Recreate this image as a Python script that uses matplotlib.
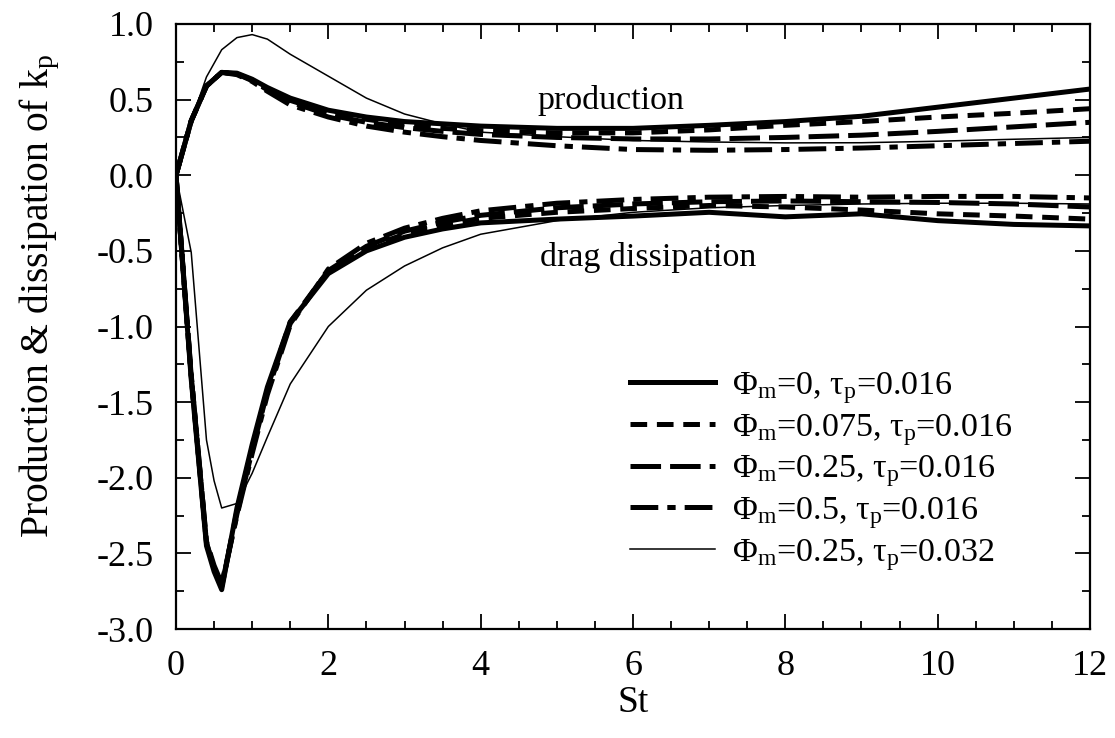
import matplotlib
matplotlib.use("Agg")
import matplotlib.pyplot as plt
from matplotlib.ticker import MultipleLocator

plt.rcParams['font.family'] = ['Liberation Serif', 'DejaVu Serif']
plt.rcParams['mathtext.fontset'] = 'custom'
plt.rcParams['mathtext.rm'] = 'Liberation Serif'
plt.rcParams['mathtext.it'] = 'Liberation Serif:italic'
plt.rcParams['axes.unicode_minus'] = False
plt.rcParams['lines.scale_dashes'] = False

# ---- data ----
x_prod = [0, 0.2, 0.4, 0.6, 0.8, 1.0, 1.2, 1.5, 2.0, 2.5, 3.0, 3.5, 4.0, 5.0, 6.0, 7.0, 8.0, 9.0, 10.0, 11.0, 12.0]
prod_phi0 = [0, 0.36, 0.59, 0.68, 0.675, 0.635, 0.58, 0.51, 0.43, 0.385, 0.355, 0.34, 0.325, 0.31, 0.31, 0.33, 0.355, 0.39, 0.45, 0.51, 0.57]
prod_phi0075 = [0, 0.36, 0.59, 0.68, 0.67, 0.63, 0.57, 0.495, 0.415, 0.37, 0.335, 0.31, 0.295, 0.28, 0.28, 0.30, 0.33, 0.355, 0.385, 0.41, 0.44]
prod_phi025 = [0, 0.36, 0.59, 0.68, 0.67, 0.625, 0.565, 0.485, 0.40, 0.35, 0.315, 0.29, 0.27, 0.25, 0.24, 0.24, 0.25, 0.265, 0.29, 0.32, 0.35]
prod_phi05 = [0, 0.36, 0.59, 0.68, 0.665, 0.62, 0.555, 0.465, 0.385, 0.325, 0.285, 0.255, 0.23, 0.195, 0.17, 0.165, 0.17, 0.18, 0.195, 0.21, 0.225]
prod_tau032 = [0, 0.36, 0.65, 0.83, 0.91, 0.93, 0.90, 0.80, 0.655, 0.51, 0.405, 0.34, 0.285, 0.255, 0.23, 0.22, 0.214, 0.215, 0.225, 0.238, 0.25]

x_diss = [0, 0.2, 0.4, 0.5, 0.6, 0.8, 1.0, 1.2, 1.5, 2.0, 2.5, 3.0, 3.5, 4.0, 5.0, 6.0, 7.0, 8.0, 9.0, 10.0, 11.0, 12.0]
diss_phi0 = [0, -1.35, -2.45, -2.62, -2.74, -2.2, -1.78, -1.40, -0.97, -0.65, -0.50, -0.41, -0.355, -0.315, -0.29, -0.27, -0.245, -0.275, -0.255, -0.30, -0.325, -0.335]
diss_phi0075 = [0, -1.33, -2.43, -2.6, -2.72, -2.22, -1.80, -1.42, -0.97, -0.63, -0.48, -0.39, -0.33, -0.285, -0.245, -0.22, -0.20, -0.21, -0.23, -0.255, -0.27, -0.29]
diss_phi025 = [0, -1.33, -2.43, -2.6, -2.72, -2.24, -1.82, -1.43, -0.98, -0.63, -0.47, -0.37, -0.31, -0.265, -0.215, -0.19, -0.175, -0.17, -0.175, -0.18, -0.19, -0.21]
diss_phi05 = [0, -1.32, -2.42, -2.58, -2.7, -2.25, -1.84, -1.45, -0.99, -0.62, -0.45, -0.35, -0.285, -0.235, -0.185, -0.16, -0.145, -0.14, -0.145, -0.14, -0.14, -0.15]
diss_tau032 = [0, -0.51, -1.75, -2.02, -2.2, -2.17, -1.97, -1.73, -1.38, -1.0, -0.76, -0.6, -0.48, -0.39, -0.30, -0.245, -0.215, -0.20, -0.19, -0.185, -0.185, -0.19]

labels = [r'Φ$_\mathrm{m}$=0, τ$_\mathrm{p}$=0.016',
          r'Φ$_\mathrm{m}$=0.075, τ$_\mathrm{p}$=0.016',
          r'Φ$_\mathrm{m}$=0.25, τ$_\mathrm{p}$=0.016',
          r'Φ$_\mathrm{m}$=0.5, τ$_\mathrm{p}$=0.016',
          r'Φ$_\mathrm{m}$=0.25, τ$_\mathrm{p}$=0.032']
yticks = [1.0, 0.5, 0.0, -0.5, -1.0, -1.5, -2.0, -2.5, -3.0]
xticks = [0, 2, 4, 6, 8, 10, 12]

# ---- figure ----
fig = plt.figure(figsize=(11.15, 7.38), dpi=100)
ax = fig.add_axes([176/1115, 1-629/738, (1090-176)/1115, (629-24)/738])

thick = 3.6
styles = [
    dict(lw=thick, ls='-', zorder=6),
    dict(lw=thick, dashes=(12, 7), zorder=5),
    dict(lw=thick, dashes=(22, 6.5), zorder=4),
    dict(lw=thick, dashes=(20, 6.5, 6, 6.5), zorder=3),
    dict(lw=1.1, ls='-', zorder=7),
]
prods = [prod_phi0, prod_phi0075, prod_phi025, prod_phi05, prod_tau032]
disses = [diss_phi0, diss_phi0075, diss_phi025, diss_phi05, diss_tau032]
for p, d, st, lab in zip(prods, disses, styles, labels):
    ax.plot(x_prod, p, color='black', label=lab, **st)
    ax.plot(x_diss, d, color='black', **st)

ax.set_xlim(0, 12)
ax.set_ylim(-3.0, 1.0)
ax.set_xticks(xticks)
ax.set_yticks(yticks)
ax.set_yticklabels([f'{v:.1f}' for v in yticks])
ax.xaxis.set_minor_locator(MultipleLocator(0.5))
ax.yaxis.set_minor_locator(MultipleLocator(0.25))
ax.tick_params(which='both', direction='in', top=True, right=True, width=1.3, labelsize=26)
ax.tick_params(which='major', length=11)
ax.tick_params(which='minor', length=6)
ax.tick_params(axis='y', which='major', pad=16)
ax.tick_params(axis='x', which='major', pad=15)
for s in ax.spines.values():
    s.set_linewidth(1.6)

ax.set_xlabel('St', fontsize=27, labelpad=2)
ax.set_ylabel(r'Production & dissipation of k$_\mathrm{p}$', fontsize=28.5)
ax.yaxis.set_label_coords((62 - 176) / 914, 0.55)

ax.text(4.75, 0.435, 'production', fontsize=24.5, va='baseline', ha='left')
ax.text(4.78, -0.597, 'drag dissipation', fontsize=24.5, va='baseline', ha='left')

leg = ax.legend(loc='upper left', bbox_to_anchor=(630/1115, 1-370/738),
                bbox_transform=fig.transFigure, frameon=False, fontsize=24.5,
                handlelength=2.5, handletextpad=0.5, labelspacing=0.17,
                borderpad=0, borderaxespad=0)

fig.savefig('out.png', dpi=100)
